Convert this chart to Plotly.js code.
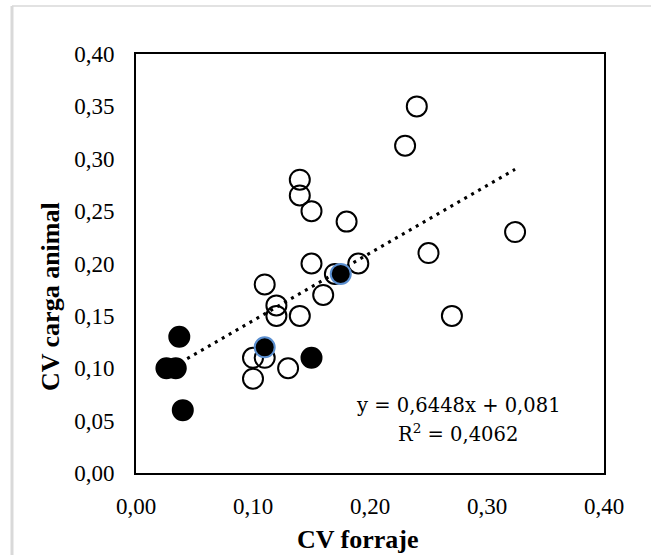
<!DOCTYPE html>
<html>
<head>
<meta charset="utf-8">
<script src="https://cdn.plot.ly/plotly-3.0.1.min.js"></script>
<style>html,body{margin:0;padding:0;background:#fff;}#chart{width:651px;height:555px;}</style>
</head>
<body>
<div id="chart"></div>
<script>
// Open circles (CV forraje, CV carga animal)
const xOpen = [0.24, 0.23, 0.14, 0.14, 0.15, 0.18, 0.324, 0.25, 0.15, 0.19, 0.17, 0.11, 0.16, 0.12, 0.12, 0.14, 0.27, 0.10, 0.11, 0.10, 0.13];
const yOpen = [0.35, 0.3125, 0.28, 0.265, 0.25, 0.24, 0.23, 0.21, 0.20, 0.20, 0.19, 0.18, 0.17, 0.16, 0.15, 0.15, 0.15, 0.11, 0.11, 0.09, 0.10];
// Filled circles
const xFilled = [0.037, 0.026, 0.034, 0.04, 0.11, 0.15, 0.175];
const yFilled = [0.13, 0.10, 0.10, 0.06, 0.12, 0.11, 0.19];
const filledOutline = ['#000', '#000', '#000', '#000', '#5b8fd0', '#000', '#5b8fd0'];
// Linear trendline coefficients
const slope = 0.6448;
const intercept = 0.081;
const r2 = 0.4062;
const xTicks = [0, 0.1, 0.2, 0.3, 0.4];
const yTicks = [0, 0.05, 0.1, 0.15, 0.2, 0.25, 0.3, 0.35, 0.4];

const allX = xOpen.concat(xFilled);
const xMin = Math.min(...allX), xMax = Math.max(...allX);
const trendX = [xMin, xMax];
const trendY = trendX.map(v => slope * v + intercept);

const fmt = (v, d) => v.toFixed(d).replace('.', ',');
const eqText = 'y = ' + fmt(slope, 4) + 'x + ' + fmt(intercept, 3);
const r2Text = 'R<sup>2</sup> = ' + fmt(r2, 4);

const traces = [
  {x: xOpen, y: yOpen, type: 'scatter', mode: 'markers', hoverinfo: 'skip',
   marker: {symbol: 'circle-open', size: 20, color: '#000', line: {width: 2, color: '#000'}}},
  {x: trendX, y: trendY, type: 'scatter', mode: 'lines', hoverinfo: 'skip',
   line: {color: '#000', width: 3, dash: '3px,5px'}},
  {x: xFilled, y: yFilled, type: 'scatter', mode: 'markers', hoverinfo: 'skip',
   marker: {symbol: 'circle', size: 20, color: '#000', line: {width: 2, color: filledOutline}}}
];

const W = 468, H = 419, L = 136, T = 54;
const px = x => (x - L) / W;
const py = y => (T + H - y) / H;
const tickFont = {family: 'Liberation Serif, Times New Roman, serif', size: 23, color: '#000'};
const titleFont = {family: 'Liberation Serif, Times New Roman, serif', size: 26, color: '#000'};
const eqFont = {family: 'DejaVu Serif, serif', size: 19.5, color: '#000'};

const layout = {
  width: 651, height: 555,
  margin: {l: L, r: 651 - L - W, t: T, b: 555 - T - H, pad: 0},
  paper_bgcolor: '#fff', plot_bgcolor: '#fff',
  showlegend: false,
  separators: ',.',
  xaxis: {range: [0, 0.4], tickvals: xTicks, tickformat: '.2f', showgrid: false, zeroline: false,
          showline: true, linecolor: '#000', linewidth: 2, mirror: true, ticks: '',
          ticklabelstandoff: 11, tickfont: tickFont, fixedrange: true},
  yaxis: {range: [0, 0.4], tickvals: yTicks, tickformat: '.2f', showgrid: false, zeroline: false,
          showline: true, linecolor: '#000', linewidth: 2, mirror: true, ticks: '',
          ticklabelstandoff: 15, tickfont: tickFont, fixedrange: true},
  shapes: [
    {type: 'line', xref: 'paper', yref: 'paper', x0: px(12), x1: px(12), y0: py(6), y1: py(560),
     line: {color: '#d9d9d9', width: 3}},
    {type: 'line', xref: 'paper', yref: 'paper', x0: px(12), x1: px(660), y0: py(6), y1: py(6),
     line: {color: '#d9d9d9', width: 1.5}}
  ],
  annotations: [
    {xref: 'paper', yref: 'paper', x: px(458), y: py(405), text: eqText, showarrow: false,
     xanchor: 'center', yanchor: 'middle', font: eqFont},
    {xref: 'paper', yref: 'paper', x: px(458), y: py(433), text: r2Text, showarrow: false,
     xanchor: 'center', yanchor: 'middle', font: eqFont},
    {xref: 'paper', yref: 'paper', x: px(358), y: py(539), text: '<b>CV forraje</b>', showarrow: false,
     xanchor: 'center', yanchor: 'middle', font: titleFont},
    {xref: 'paper', yref: 'paper', x: px(50), y: py(297), text: '<b>CV carga animal</b>', showarrow: false,
     xanchor: 'center', yanchor: 'middle', textangle: -90, font: titleFont}
  ]
};

Plotly.newPlot('chart', traces, layout, {staticPlot: true, displayModeBar: false});
</script>
</body>
</html>
